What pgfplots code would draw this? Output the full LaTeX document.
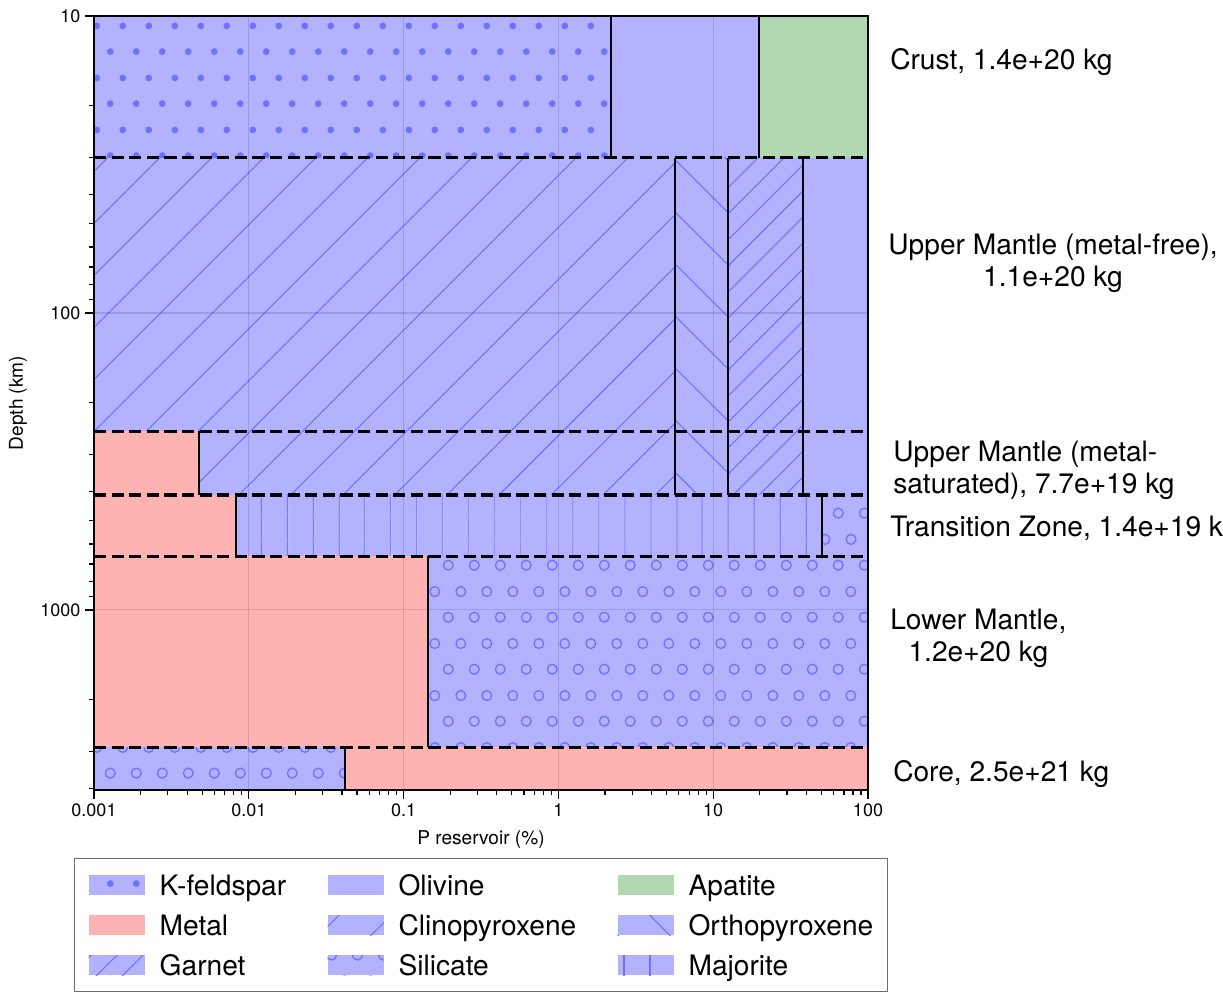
\documentclass[border=0pt]{standalone}
\usepackage{fontspec}
\setmainfont{TeX Gyre Heros}
\usepackage{pgfplots}
\pgfplotsset{compat=1.18}
\usetikzlibrary{patterns.meta}

\definecolor{fblue}{RGB}{178,178,255}
\definecolor{fred}{RGB}{255,178,178}
\definecolor{fgreen}{RGB}{178,216,178}
\definecolor{hblue}{RGB}{112,112,255}
\definecolor{lgframe}{RGB}{110,110,110}

\tikzdeclarepattern{
  name=kdots, type=uncolored,
  bounding box={(0pt,0pt) and (19.5pt,39pt)},
  tile size={(19.5pt,39pt)},
  code={\fill (4.875pt,4.875pt) circle (2.6pt); \fill (14.625pt,24.375pt) circle (2.6pt);}
}
\tikzdeclarepattern{
  name=ocircles, type=uncolored,
  bounding box={(0pt,0pt) and (19.5pt,39pt)},
  tile size={(19.5pt,39pt)},
  code={\draw[line width=1pt] (4.875pt,9.75pt) circle (3.75pt); \draw[line width=1pt] (14.625pt,29.25pt) circle (3.75pt);}
}

\tikzset{
 kfeld/.style={fill=fblue, postaction={draw=none, pattern=kdots, pattern color=hblue}},
 olivine/.style={fill=fblue},
 apatite/.style={fill=fgreen},
 metal/.style={fill=fred},
 clino/.style={fill=fblue, postaction={draw=none, pattern={Lines[angle=45,distance=27.6pt,line width=0.8pt]}, pattern color=hblue}},
 ortho/.style={fill=fblue, postaction={draw=none, pattern={Lines[angle=-45,distance=27.6pt,line width=0.8pt]}, pattern color=hblue}},
 garnet/.style={fill=fblue, postaction={draw=none, pattern={Lines[angle=45,distance=13.8pt,line width=0.8pt]}, pattern color=hblue}},
 silicate/.style={fill=fblue, postaction={draw=none, pattern=ocircles, pattern color=hblue}},
 majorite/.style={fill=fblue, postaction={draw=none, pattern={Lines[angle=90,distance=19.5pt,line width=0.8pt]}, pattern color=hblue}},
 vline/.style={black, line width=1.3pt},
 hdash/.style={black, line width=2.4pt, dash pattern=on 9.2pt off 4pt},
}

\newcommand{\biglab}{\fontsize{21.1}{24}\selectfont}
\newcommand{\ticklab}{\fontsize{13.5}{16}\selectfont}

\begin{document}
\begin{tikzpicture}
\begin{axis}[
 at={(0pt,0pt)}, anchor=south west,
 scale only axis, width=580.5pt, height=580.5pt,
 xmode=log, ymode=log, y dir=reverse,
 xmin=0.001, xmax=100, ymin=10, ymax=4040,
 xtick={0.001,0.01,0.1,1,10,100}, xticklabels={0.001,0.01,0.1,1,10,100},
 ytick={10,100,1000}, yticklabels={10,100,1000},
 minor xtick={0.002,0.003,0.004,0.005,0.006,0.007,0.008,0.009,0.02,0.03,0.04,0.05,0.06,0.07,0.08,0.09,0.2,0.3,0.4,0.5,0.6,0.7,0.8,0.9,2,3,4,5,6,7,8,9,20,30,40,50,60,70,80,90},
 minor ytick={20,30,40,50,60,70,80,90,200,300,400,500,600,700,800,900,2000,3000,4000},
 tick align=outside, xtick pos=bottom, ytick pos=left,
 major tick length=6.75pt, minor tick length=3.5pt,
 tick style={black, line width=0.9pt},
 grid=major, major grid style={black, opacity=0.13, line width=0.8pt},
 axis line style={line width=1pt},
 axis on top,
 clip=false,
 /pgf/number format/assume math mode=true,
 ticklabel style={font=\ticklab},
 label style={font=\fontsize{14.3}{17}\selectfont},
 xlabel={P reservoir (\%)}, ylabel={Depth (km)},
 xlabel style={at={(axis description cs:0.5,-0.064)}, anchor=center},
 ylabel style={at={(axis description cs:-0.0982,0.5)}, anchor=center},
 legend image code/.code={\path[#1, draw=none] (0pt,-7.5pt) rectangle (42pt,7.5pt);},
 legend columns=3,
 legend style={at={(0.5,-0.0879)}, anchor=north, draw=lgframe, line width=0.8pt,
   font=\biglab, inner xsep=10.5pt, inner ysep=10.5pt, row sep=11pt,
   nodes={inner sep=0pt, text height=17pt, text depth=2pt},
   /tikz/every odd column/.style={column sep=11.25pt},
   /tikz/every even column/.style={column sep=31pt},
   cells={anchor=west}},
]
% Crust 10-30
\addplot[kfeld, draw=none, forget plot] coordinates {(0.001,10) (2.187,10) (2.187,30) (0.001,30)} -- cycle;
\addplot[olivine, draw=none, forget plot] coordinates {(2.187,10) (19.8,10) (19.8,30) (2.187,30)} -- cycle;
\addplot[apatite, draw=none, forget plot] coordinates {(19.8,10) (100,10) (100,30) (19.8,30)} -- cycle;
% Upper mantle metal-free 30-250
\addplot[clino, draw=none, forget plot] coordinates {(0.001,30) (5.666,30) (5.666,250) (0.001,250)} -- cycle;
\addplot[ortho, draw=none, forget plot] coordinates {(5.666,30) (12.46,30) (12.46,250) (5.666,250)} -- cycle;
\addplot[garnet, draw=none, forget plot] coordinates {(12.46,30) (38.03,30) (38.03,250) (12.46,250)} -- cycle;
\addplot[olivine, draw=none, forget plot] coordinates {(38.03,30) (100,30) (100,250) (38.03,250)} -- cycle;
% Upper mantle metal-saturated 250-410
\addplot[metal, draw=none, forget plot] coordinates {(0.001,250) (0.004768,250) (0.004768,410) (0.001,410)} -- cycle;
\addplot[clino, draw=none, forget plot] coordinates {(0.004768,250) (5.666,250) (5.666,410) (0.004768,410)} -- cycle;
\addplot[ortho, draw=none, forget plot] coordinates {(5.666,250) (12.46,250) (12.46,410) (5.666,410)} -- cycle;
\addplot[garnet, draw=none, forget plot] coordinates {(12.46,250) (38.03,250) (38.03,410) (12.46,410)} -- cycle;
\addplot[olivine, draw=none, forget plot] coordinates {(38.03,250) (100,250) (100,410) (38.03,410)} -- cycle;
% Transition zone 410-660
\addplot[metal, draw=none, forget plot] coordinates {(0.001,410) (0.008268,410) (0.008268,660) (0.001,660)} -- cycle;
\addplot[majorite, draw=none, forget plot] coordinates {(0.008268,410) (50.44,410) (50.44,660) (0.008268,660)} -- cycle;
\addplot[silicate, draw=none, forget plot] coordinates {(50.44,410) (100,410) (100,660) (50.44,660)} -- cycle;
% Lower mantle 660-2900
\addplot[metal, draw=none, forget plot] coordinates {(0.001,660) (0.1438,660) (0.1438,2900) (0.001,2900)} -- cycle;
\addplot[silicate, draw=none, forget plot] coordinates {(0.1438,660) (100,660) (100,2900) (0.1438,2900)} -- cycle;
% Core 2900-4040
\addplot[silicate, draw=none, forget plot] coordinates {(0.001,2900) (0.04182,2900) (0.04182,4040) (0.001,4040)} -- cycle;
\addplot[metal, draw=none, forget plot] coordinates {(0.04182,2900) (100,2900) (100,4040) (0.04182,4040)} -- cycle;

% vertical boundaries
\addplot[vline, forget plot] coordinates {(2.187,10) (2.187,30)};
\addplot[vline, forget plot] coordinates {(19.8,10) (19.8,30)};
\addplot[vline, forget plot] coordinates {(5.666,30) (5.666,410)};
\addplot[vline, forget plot] coordinates {(12.46,30) (12.46,410)};
\addplot[vline, forget plot] coordinates {(38.03,30) (38.03,410)};
\addplot[vline, forget plot] coordinates {(0.004768,250) (0.004768,410)};
\addplot[vline, forget plot] coordinates {(0.008268,410) (0.008268,660)};
\addplot[vline, forget plot] coordinates {(50.44,410) (50.44,660)};
\addplot[vline, forget plot] coordinates {(0.1438,660) (0.1438,2900)};
\addplot[vline, forget plot] coordinates {(0.04182,2900) (0.04182,4040)};

% dashed layer boundaries
\addplot[hdash, forget plot] coordinates {(0.001,30) (100,30)};
\addplot[hdash, forget plot] coordinates {(0.001,250) (100,250)};
\addplot[hdash, forget plot] coordinates {(0.001,410) (100,410)};
\addplot[hdash, forget plot] coordinates {(0.001,660) (100,660)};
\addplot[hdash, forget plot] coordinates {(0.001,2900) (100,2900)};

% legend (row-wise order)
\addlegendimage{kfeld}\addlegendentry{K-feldspar}
\addlegendimage{olivine}\addlegendentry{Olivine}
\addlegendimage{apatite}\addlegendentry{Apatite}
\addlegendimage{metal}\addlegendentry{Metal}
\addlegendimage{clino}\addlegendentry{Clinopyroxene}
\addlegendimage{ortho}\addlegendentry{Orthopyroxene}
\addlegendimage{garnet}\addlegendentry{Garnet}
\addlegendimage{silicate}\addlegendentry{Silicate}
\addlegendimage{majorite}\addlegendentry{Majorite}

% layer labels
\node[anchor=west, inner sep=0pt, font=\biglab, align=left, xshift=16.5pt, yshift=-2.25pt] at (axis cs:100,13.96) {Crust, 1.4e+20 kg};
\node[anchor=west, inner sep=0pt, font=\biglab, align=center, xshift=15pt, yshift=-2.25pt] at (axis cs:100,66.3) {Upper Mantle (metal-free),\\1.1e+20 kg};
\node[anchor=west, inner sep=0pt, font=\biglab, align=left, xshift=18.75pt, yshift=-2.25pt] at (axis cs:100,332) {Upper Mantle (metal-\\saturated), 7.7e+19 kg};
\node[anchor=west, inner sep=0pt, font=\biglab, align=left, xshift=16.5pt, yshift=-2.25pt] at (axis cs:100,521) {Transition Zone, 1.4e+19 kg};
\node[anchor=west, inner sep=0pt, font=\biglab, align=center, xshift=16.5pt, yshift=-2.25pt] at (axis cs:100,1213) {Lower Mantle,\\1.2e+20 kg};
\node[anchor=west, inner sep=0pt, font=\biglab, align=left, xshift=18.75pt, yshift=-2.25pt] at (axis cs:100,3484) {Core, 2.5e+21 kg};
\end{axis}
\pgfresetboundingbox
\path[use as bounding box] (-70.5pt,-153pt) rectangle (846.75pt,592.5pt);
\end{tikzpicture}
\end{document}
